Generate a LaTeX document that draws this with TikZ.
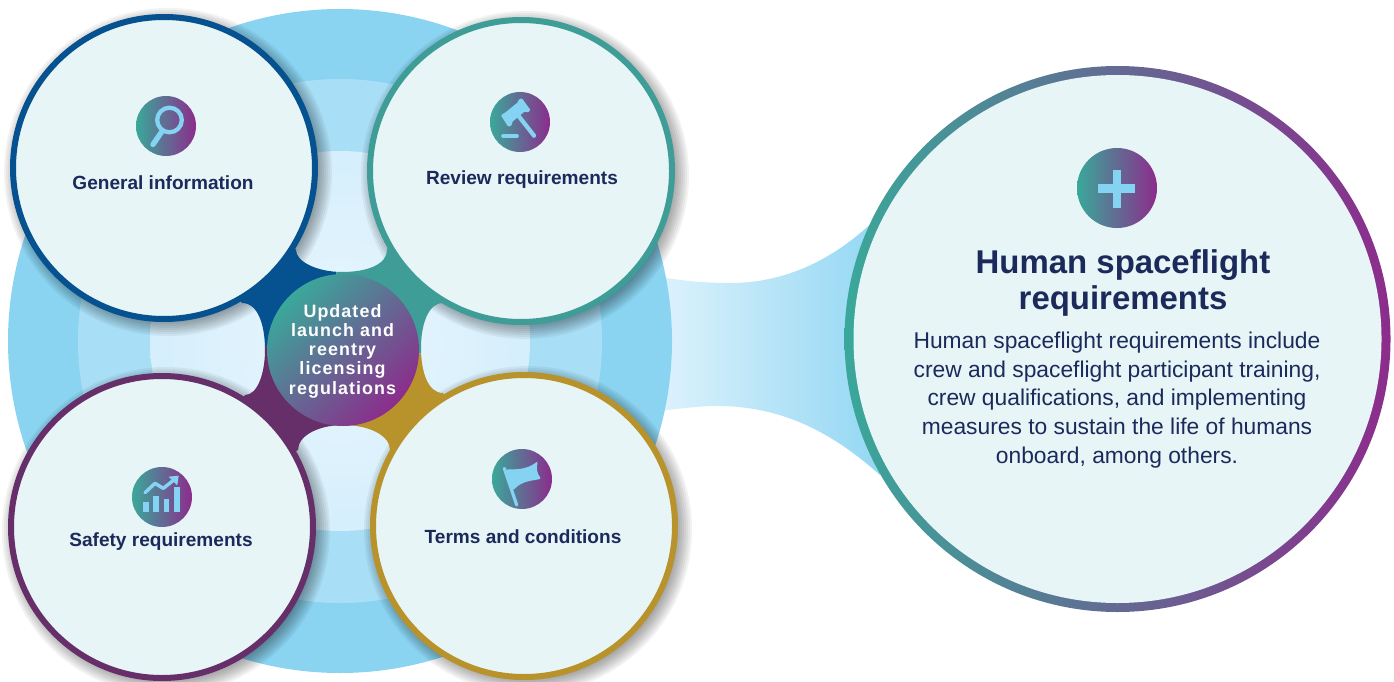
\documentclass[tikz,border=0pt]{standalone}
\usepackage{fontspec}
\setmainfont{Liberation Sans}
\usetikzlibrary{calc}
\definecolor{discA}{HTML}{8AD4F2}
\definecolor{discB}{HTML}{A9DFF6}
\definecolor{discC}{HTML}{BFE6F9}
\definecolor{discD}{HTML}{EAF7FE}
\definecolor{paper}{HTML}{E7F5F7}
\definecolor{cblue}{HTML}{06518F}
\definecolor{cteal}{HTML}{3F9D97}
\definecolor{cplum}{HTML}{662F69}
\definecolor{cgold}{HTML}{B8922B}
\definecolor{gradA}{HTML}{3AA89A}
\definecolor{gradB}{HTML}{8C2C8C}
\definecolor{navy}{HTML}{1B2A5B}
\definecolor{glyph}{HTML}{85D3F2}
\pgfdeclareradialshading{innerdisc}{\pgfpoint{0bp}{0bp}}{color(0bp)=(discD); color(50bp)=(discC)}
\tikzset{
  topic/.style={circle,draw=#1,fill=paper,line width=4.5pt,minimum size=226.5pt,inner sep=0pt,outer sep=0pt},
  topiclabel/.style={text=navy,inner sep=0pt,font=\fontsize{14.3pt}{17pt}\selectfont\bfseries},
  badge/.style={circle,left color=gradA,right color=gradB,inner sep=0pt,outer sep=0pt,minimum size=#1},
  hubtext/.style={align=center,text=white,font=\fontsize{13.4pt}{14.45pt}\selectfont\bfseries\addfontfeature{LetterSpace=6}},
  glyphline/.style={draw=glyph,line cap=round,line join=round},
  glyphfill/.style={fill=glyph},
}
\begin{document}
\begin{tikzpicture}[x=0.75pt,y=-0.75pt]
\useasboundingbox (0,0) rectangle (1394,681);
% bridge between the disc and the big circle
\shade[left color=discD!70!discC,right color=discA!92!white]
  (660,277) .. controls (685,281) and (705,283) .. (730,283)
  .. controls (785,283) and (835,260) .. (880,215)
  -- (880,475) .. controls (835,435) and (785,406) .. (717,406)
  .. controls (700,406) and (685,408) .. (660,411) -- cycle;
% concentric discs
\fill[discA] (340,341) circle[radius=332];
\fill[discB] (340,341) circle[radius=262];
\shade[shading=innerdisc] (340,341) circle[radius=190];
% soft shadows of the four circles
\foreach \cx/\cy in {164/168,521/171,162/527,524/526}{
  \foreach \r in {150,152,...,164}{
    \fill[black,opacity=.05] (\cx+4,\cy+4) circle[radius=\r];
  }
}
% four-coloured star behind the hub
\begin{scope}
\clip (296,250) .. controls (296,262) and (318,272) .. (342,272)
  .. controls (368,272) and (387,264) .. (387,250)
  -- (395,220) -- (470,260) -- (443,303)
  .. controls (428,303) and (421,325) .. (421,348)
  .. controls (421,372) and (428,393) .. (443,393)
  -- (470,440) -- (410,465) -- (390,450)
  .. controls (390,435) and (368,425) .. (343,425)
  .. controls (320,425) and (298,435) .. (298,450)
  -- (270,465) -- (220,430) -- (245,395)
  .. controls (258,395) and (265,372) .. (265,350)
  .. controls (265,325) and (258,303) .. (242,303)
  -- (215,260) -- (275,215) -- cycle;
\fill[cblue] (343,350) -- (330,200) -- (200,200) -- (200,343) -- cycle;
\fill[cteal] (343,350) -- (330,200) -- (500,200) -- (500,357) -- cycle;
\fill[cgold] (343,350) -- (500,357) -- (500,500) -- (343,500) -- cycle;
\fill[cplum] (343,350) -- (343,500) -- (200,500) -- (200,343) -- cycle;
\end{scope}
% four topic circles
\node[topic=cblue] (general) at (164,168) {};
\node[topic=cteal] (review) at (521,171) {};
\node[topic=cplum] (safety) at (162,527) {};
\node[topic=cgold] (terms) at (524,526) {};
% hub
\node[circle,left color=gradA,right color=gradB,shading angle=45,minimum size=114pt,inner sep=0pt,outer sep=0pt] (hub) at (343,350) {};
\node[hubtext] (hublabel) at (342.5,351) {Updated\\launch and\\reentry\\licensing\\regulations};
% labels
\node[topiclabel] (generallabel) at (163,182.5) {General information};
\node[topiclabel] (reviewlabel) at (522,180) {Review requirements};
\node[topiclabel] (safetylabel) at (161,542) {Safety requirements};
\node[topiclabel] (termslabel) at (523,537) {Terms and conditions};
% badges
\node[badge=45pt] (iconA) at (166,126) {};
\node[badge=45pt] (iconB) at (520,122) {};
\node[badge=45pt] (iconC) at (162,497) {};
\node[badge=45pt] (iconD) at (522,479) {};
% magnifier
\draw[glyphline,line width=3.2pt] (169.5,120) circle[radius=12.3];
\draw[glyphline,line width=4pt] (161.5,132) -- (153,144.5);
% gavel
\begin{scope}[shift={(480,85)},x=.25pt,y=-.25pt]
\fill[glyphfill,rounded corners=1pt] (62,90) -- (74,84) -- (116,50) -- (113,46) -- (125,39) -- (152,76) -- (141,84) -- (136,78) -- (95,112) -- (97,120) -- (85,126) -- cycle;
\draw[glyphline,line width=3.2pt] (115,92) -- (162,152);
\draw[glyphline,line width=3.4pt] (70,153) -- (110,153);
\end{scope}
% chart
\begin{scope}[shift={(120,460)},x=.25pt,y=-.25pt]
\fill[glyphfill] (69,125) rectangle (86,156);
\fill[glyphfill] (100,108) rectangle (117,156);
\fill[glyphfill] (131,116) rectangle (148,156);
\fill[glyphfill] (162,82) rectangle (179,156);
\draw[glyphline,line width=2.6pt] (75,98) -- (105,70) -- (130,85) -- (165,57);
\fill[glyphfill] (146,50) -- (176,47) -- (172,76) -- cycle;
\end{scope}
% flag
\begin{scope}[shift={(480,440)},x=.25pt,y=-.25pt]
\draw[glyphline,line width=2.4pt] (73,85) -- (110,195);
\fill[glyphfill,rounded corners=1.5pt] (78,88) .. controls (105,88) and (140,90) .. (174,63)
  .. controls (168,85) and (172,102) .. (184,116)
  .. controls (160,122) and (125,122) .. (99,152) -- cycle;
\end{scope}
% big circle with gradient ring
\node[circle,left color=gradA,right color=gradB,minimum size=409.5pt,inner sep=0pt,outer sep=0pt] (bigring) at (1117.5,339) {};
\node[circle,fill=paper,minimum size=396pt,inner sep=0pt,outer sep=0pt] (bigface) at (1117.5,339) {};
\node[badge=60pt] (iconE) at (1117,188) {};
\fill[glyph] (1112.5,170) rectangle (1121.2,207.5);
\fill[glyph] (1098,184) rectangle (1135,193);
\node[align=center,text=navy,font=\fontsize{24.7pt}{27pt}\selectfont\bfseries] (title) at (1123,283) {Human spaceflight\\requirements};
\node[align=center,text=navy,font=\fontsize{17.1pt}{21.6pt}\selectfont] (body) at (1117,400) {Human spaceflight requirements include\\crew and spaceflight participant training,\\crew qualifications, and implementing\\measures to sustain the life of humans\\onboard, among others.};
\end{tikzpicture}
\end{document}
